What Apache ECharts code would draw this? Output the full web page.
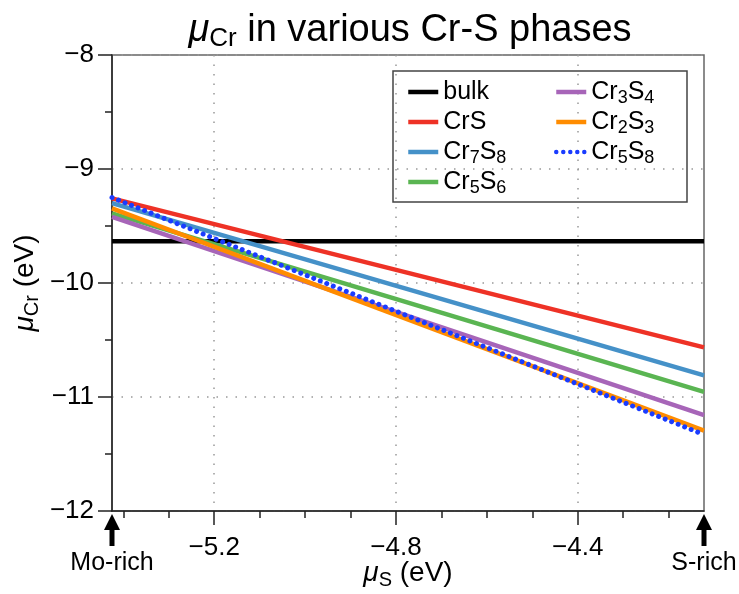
<!DOCTYPE html>
<html><head><meta charset="utf-8">
<script src="https://cdn.jsdelivr.net/npm/echarts@6/dist/echarts.min.js"></script>
<style>html,body{margin:0;padding:0;background:#fff}#c{width:739px;height:594px}</style>
</head><body><div id="c"></div>
<script>
// ---- data ----
var xRange = [-5.425, -4.122];            // mu_S limits (Mo-rich, S-rich)
var seriesNames = ['bulk', 'CrS', 'Cr7S8', 'Cr5S6', 'Cr3S4', 'Cr2S3', 'Cr5S8'];
var bulk  = [-9.633, -9.633];
var CrS   = [-9.258, -10.565];
var Cr7S8 = [-9.30, -10.81];
var Cr5S6 = [-9.39, -10.955];
var Cr3S4 = [-9.42, -11.16];
var Cr2S3 = [-9.345, -11.295];
var Cr5S8 = [-9.25, -11.33];
var xMajorTicks = [-5.2, -4.8, -4.4];
var xMinorTicks = [-5.4, -5.3, -5.1, -5.0, -4.9, -4.7, -4.6, -4.5, -4.3, -4.2];
var yRange = [-12, -8];
var endLabels = ['Mo-rich', 'S-rich'];

var FONT = '"Liberation Sans", Arial, sans-serif';
var colors = ['#000000', '#ee3226', '#4591c8', '#5ab552', '#a765b8', '#ff8c00', '#1a3cff'];
var values = [bulk, CrS, Cr7S8, Cr5S6, Cr3S4, Cr2S3, Cr5S8];
var legendText = {
  bulk: 'bulk', CrS: 'CrS', Cr7S8: 'Cr{s|7}S{s|8}', Cr5S6: 'Cr{s|5}S{s|6}',
  Cr3S4: 'Cr{s|3}S{s|4}', Cr2S3: 'Cr{s|2}S{s|3}', Cr5S8: 'Cr{s|5}S{s|8}'
};
function minus(v){ return String(v).replace('-', '\u2212'); }

var series = seriesNames.map(function(n, i){
  var dotted = (n === 'Cr5S8');
  return {
    name: n, type: 'line', symbol: 'none', showSymbol: false, silent: true,
    data: [[xRange[0], values[i][0]], [xRange[1], values[i][1]]],
    lineStyle: dotted ? {color: colors[i], width: 5, type: [0.01, 7], cap: 'round'}
                      : {color: colors[i], width: 4.5},
    itemStyle: {color: colors[i]},
    z: 2 + i
  };
});

var richLeg = {s: {fontSize: 18, fontFamily: FONT, color: '#000', lineHeight: 18, verticalAlign: 'bottom'}};
function legendOf(names, left){
  return {
    orient: 'vertical', left: left, top: 77, padding: 0, itemWidth: 30, itemHeight: 16, itemGap: 0,
    selectedMode: false,
    itemStyle: {opacity: 0},
    lineStyle: {width: 4.5},
    data: names,
    formatter: function(n){ return legendText[n]; },
    textStyle: {fontSize: 25, lineHeight: 30, fontFamily: FONT, color: '#000', rich: richLeg}
  };
}

var richMu = {
  mu: {fontStyle: 'italic', fontSize: 28, fontFamily: FONT, color: '#000'},
  sub: {fontSize: 20, fontFamily: FONT, color: '#000', padding: [13, 0, 0, 0]}
};

var chart = echarts.init(document.getElementById('c'), null, {renderer: 'canvas'});
chart.setOption({
  animation: false,
  backgroundColor: '#fff',
  title: {
    text: '{mu|\u03bc}{sub|Cr} in various Cr-S phases',
    left: 405, top: 4, textAlign: 'center',
    textStyle: {fontSize: 38, fontWeight: 'normal', fontFamily: FONT, color: '#000',
      rich: {mu: {fontStyle: 'italic', fontSize: 38, fontFamily: FONT, color: '#000'},
             sub: {fontSize: 26, fontFamily: FONT, color: '#000', padding: [17, 0, 0, 0]}}}
  },
  grid: {left: 112, right: 35, top: 55, bottom: 83, show: true, borderColor: '#666', borderWidth: 1.5,
         containLabel: false, outerBoundsMode: 'none'},
  legend: [legendOf(seriesNames.slice(0, 4), 406), legendOf(seriesNames.slice(4), 554)],
  xAxis: [{
    type: 'value', min: xRange[0], max: xRange[1],
    name: '{mu|\u03bc}{sub|S} (eV)', nameLocation: 'middle', nameGap: 46, nameMoveOverlap: false,
    nameTextStyle: {fontSize: 28, fontFamily: FONT, color: '#000', rich: richMu},
    axisLine: {show: true, onZero: false, lineStyle: {color: '#222', width: 1.5}},
    axisTick: {show: true, inside: false, length: 14, customValues: xMajorTicks, lineStyle: {color: '#222', width: 1.5}},
    axisLabel: {show: true, customValues: xMajorTicks, margin: 24, fontSize: 26, fontFamily: FONT, color: '#000', formatter: minus},
    splitLine: {show: true, lineStyle: {color: '#999', width: 1.5, type: [1.5, 8]}}
  }, {
    type: 'value', min: xRange[0], max: xRange[1], position: 'bottom',
    axisLine: {show: false},
    axisTick: {show: true, inside: false, length: 7, customValues: xMinorTicks, lineStyle: {color: '#222', width: 1.5}},
    axisLabel: {show: false}, splitLine: {show: false}
  }],
  yAxis: {
    type: 'value', min: yRange[0], max: yRange[1], interval: 1,
    name: '{mu|\u03bc}{sub|Cr} (eV)', nameLocation: 'middle', nameGap: 70, nameRotate: 90, nameMoveOverlap: false,
    nameTextStyle: {fontSize: 28, fontFamily: FONT, color: '#000', rich: richMu},
    axisLine: {show: true, onZero: false, lineStyle: {color: '#222', width: 1.5}},
    axisTick: {show: true, inside: false, length: 14, lineStyle: {color: '#222', width: 1.5}},
    minorTick: {show: true, splitNumber: 2, length: 7, lineStyle: {color: '#222', width: 1.5}},
    axisLabel: {margin: 18, fontSize: 26, fontFamily: FONT, color: '#000', formatter: minus},
    splitLine: {show: true, lineStyle: {color: '#999', width: 1.5, type: [1.5, 8]}}
  },
  series: series
});

// legend frame + end-point arrows
var p0 = chart.convertToPixel({xAxisIndex: 0, yAxisIndex: 0}, [xRange[0], yRange[0]]);
var p1 = chart.convertToPixel({xAxisIndex: 0, yAxisIndex: 0}, [xRange[1], yRange[0]]);
function arrow(px, py, label){
  return {type: 'group', children: [
    {type: 'polygon', shape: {points: [[px, py + 3], [px - 8, py + 19], [px + 8, py + 19]]}, style: {fill: '#000'}},
    {type: 'rect', shape: {x: px - 2.5, y: py + 17, width: 5, height: 18}, style: {fill: '#000'}},
    {type: 'text', x: px, y: py + 40, style: {text: label, fontSize: 25, fontFamily: FONT, fill: '#000', align: 'center', verticalAlign: 'top'}}
  ]};
}
chart.setOption({graphic: [
  {type: 'rect', shape: {x: 393, y: 71, width: 294, height: 131}, style: {fill: 'none', stroke: '#444', lineWidth: 1.5}, z: 100},
  arrow(p0[0], p0[1], endLabels[0]),
  arrow(p1[0], p1[1], endLabels[1])
]});
</script>
</body></html>
